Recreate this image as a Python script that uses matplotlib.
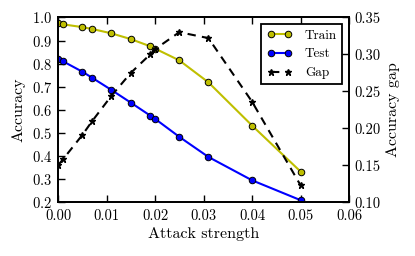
import matplotlib
matplotlib.use('Agg')
import matplotlib.pyplot as plt

# attack strengths and accuracies
strength = [0.0, 0.001, 0.005, 0.007, 0.011, 0.015, 0.019, 0.020, 0.025, 0.031, 0.040, 0.050]
train_acc = [0.976, 0.970, 0.958, 0.950, 0.931, 0.906, 0.875, 0.865, 0.814, 0.719, 0.532, 0.333]
test_acc = [0.818, 0.810, 0.765, 0.739, 0.686, 0.631, 0.575, 0.561, 0.483, 0.396, 0.295, 0.209]
gap = [0.150, 0.158, 0.191, 0.2095, 0.244, 0.275, 0.300, 0.307, 0.330, 0.322, 0.236, 0.123]

plt.rcParams['font.family'] = ['cmr10', 'DejaVu Serif']
plt.rcParams['axes.formatter.use_mathtext'] = True
plt.rcParams['mathtext.fontset'] = 'cm'
plt.rcParams['xtick.direction'] = 'in'
plt.rcParams['ytick.direction'] = 'in'
plt.rcParams['xtick.top'] = True
plt.rcParams['axes.linewidth'] = 1.3

fig = plt.figure(figsize=(4.15, 2.56), dpi=100)
ax = fig.add_axes([0.14, 0.21, 0.701, 0.722])
ax2 = ax.twinx()

l1, = ax.plot(strength, train_acc, '-o', color=(0.75, 0.75, 0), lw=1.5,
              ms=4.7, mec='k', mew=0.7, label='Train')
l2, = ax.plot(strength, test_acc, '-o', color='b', lw=1.5,
              ms=4.7, mec='k', mew=0.7, label='Test')
l3, = ax2.plot(strength, gap, '--*', color='k', lw=1.5, dashes=(4, 3),
               ms=5, label='Gap')

ax.set_xlim(0, 0.06)
ax.set_ylim(0.2, 1.0)
ax2.set_ylim(0.10, 0.35)
ax.set_xticks([0.0, 0.01, 0.02, 0.03, 0.04, 0.05, 0.06])
ax.set_xticklabels(['0.00', '0.01', '0.02', '0.03', '0.04', '0.05', '0.06'])
ax.set_yticks([0.2, 0.3, 0.4, 0.5, 0.6, 0.7, 0.8, 0.9, 1.0])
ax2.set_yticks([0.10, 0.15, 0.20, 0.25, 0.30, 0.35])
ax2.set_yticklabels(['0.10', '0.15', '0.20', '0.25', '0.30', '0.35'])
ax.tick_params(labelsize=10.5, length=5, width=1)
ax.tick_params(axis='x', pad=5)
ax.tick_params(axis='y', pad=4.5)
ax2.tick_params(labelsize=10.5, length=5, width=1, direction='in')

ax.set_xlabel('Attack strength', fontsize=11.5, labelpad=3)
ax.set_ylabel('Accuracy', fontsize=11.5)
ax2.set_ylabel('Accuracy gap', fontsize=11.5)

leg = ax2.legend([l1, l2, l3], ['Train', 'Test', 'Gap'], loc='upper right',
                 fontsize=9.5, numpoints=2, fancybox=False, framealpha=1,
                 edgecolor='k', borderaxespad=0.5, handlelength=1.9,
                 handletextpad=1.0)
leg.get_frame().set_linewidth(1.3)

fig.savefig('out.png', dpi=100)
